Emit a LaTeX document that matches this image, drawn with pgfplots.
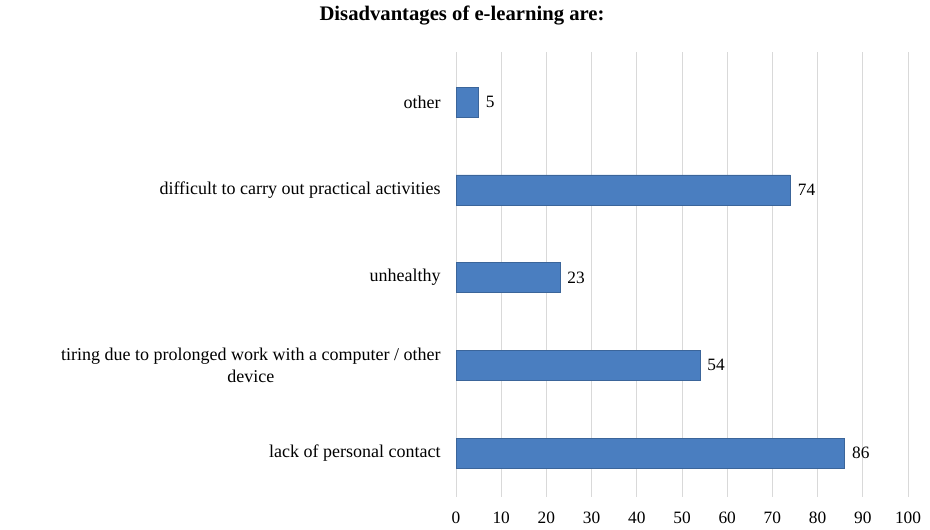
\documentclass[border=0pt]{standalone}
\usepackage{pgfplots}
\pgfplotsset{compat=1.18}
\usepackage{fontspec}
\setmainfont{Liberation Serif}
\definecolor{barblue}{HTML}{4A7EC0}
\definecolor{gridgray}{HTML}{D9D9D9}
\begin{document}
\begin{tikzpicture}
\path[use as bounding box] (0pt,0pt) rectangle (697.5pt,397.5pt);
\begin{axis}[
  name=ax,
  at={(342pt,24.75pt)}, anchor=south west,
  scale only axis,
  width=339pt, height=333.75pt,
  xbar, bar width=22.5pt,
  xmin=0, xmax=100, ymin=-0.5, ymax=4.57,
  xtick={0,10,...,100},
  ytick={0,1,2,3,4},
  yticklabels={lack of personal contact,{tiring due to prolonged work with a computer / other\\device},unhealthy,difficult to carry out practical activities,other},
  yticklabel style={align=center, font=\fontsize{13.5}{17}\selectfont, xshift=-8pt},
  xticklabel style={font=\fontsize{13}{14}\selectfont, yshift=-8pt},
  /pgf/number format/assume math mode=true,
  xmajorgrids, major grid style={gridgray, line width=0.6pt},
  axis line style={draw=none},
  major tick length=0pt,
  nodes near coords,
  nodes near coords style={font=\fontsize{13}{14}\selectfont, black, xshift=2pt},
  clip=false,
]
\addplot[fill=barblue, draw=barblue!80!black, line width=0.4pt] coordinates {(86,0) (54,1) (23,2) (74,3) (5,4)};
\end{axis}
\node[font=\bfseries\fontsize{15.5}{17}\selectfont] at (346.5pt,386pt) {Disadvantages of e-learning are:};
\end{tikzpicture}
\end{document}
